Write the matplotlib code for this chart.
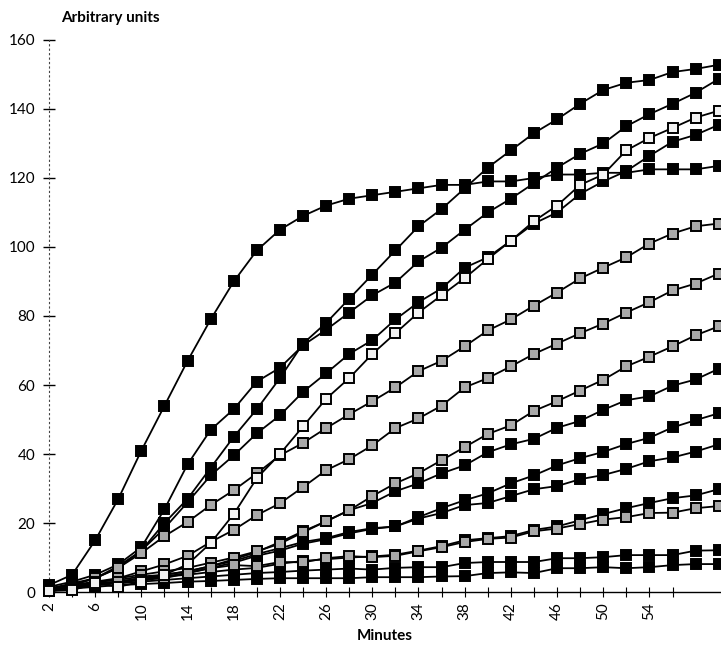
import numpy as np
import matplotlib.pyplot as plt

plt.rcParams['font.family'] = ['Lato', 'DejaVu Sans']

minutes = np.arange(2, 62, 2)

# black series
s_a = [2, 5, 15, 27, 41, 54, 67, 79, 90, 99, 105, 109, 112, 114, 115, 116, 117, 118, 118, 119,
       119, 120, 121, 121, 121.5, 121.5, 122.5, 122.5, 122.5, 123.5]
s_b = [1, 2, 4, 7, 12, 20, 27, 36, 45, 53, 62, 72, 78, 85, 92, 99, 106, 111, 117, 123,
       128, 133, 137, 141.5, 145.5, 147.6, 148.4, 150.7, 151.6, 152.8]
s_c = [1.5, 3, 5, 8, 13, 24, 37, 47, 53, 61, 65, 71.5, 76, 81, 86, 89.7, 95.8, 99.8, 105, 110,
       114, 118.5, 123, 127, 130, 135, 138.5, 141.5, 144.7, 148.7]
s_d = [1, 2.5, 4, 7.5, 12, 18.5, 26, 33.8, 39.6, 46, 51.2, 58, 63.4, 69, 73, 79, 84, 88, 94, 97,
       101.8, 106.8, 110, 115.4, 119, 122, 126.4, 130.5, 132.5, 135.4]
s_h = [1, 2, 3, 3.5, 4.5, 5, 6, 7.5, 9.5, 11.6, 14.5, 17.6, 20.5, 23.7, 25.8, 29.2, 31.5, 34.4, 36.7, 40.5,
       42.8, 44.4, 47.6, 49.6, 52.8, 55.6, 56.7, 59.8, 61.6, 64.7]
s_i = [0.5, 1.5, 2.5, 3, 4, 5, 6, 7.5, 9, 11, 12.7, 14.5, 15.6, 17.4, 18.5, 19, 21.7, 24.3, 26.6, 28.6,
       31.5, 33.8, 36.7, 38.8, 40.6, 42.9, 44.7, 47.7, 49.8, 51.8]
s_j = [0.5, 1.2, 2, 2.8, 3.5, 4.5, 5.5, 7, 8.5, 10.5, 12, 14, 15.3, 17, 18.3, 19, 21.3, 22.9, 25.2, 25.8,
       27.8, 29.8, 30.7, 32.7, 33.9, 35.7, 37.9, 39, 40.7, 42.8]
s_k = [0.5, 1.5, 2.5, 3, 4, 4.5, 5, 5.8, 6.5, 7, 8.2, 9, 9.5, 10, 10.3, 10.8, 12, 13.3, 15, 15.6,
       16.2, 18, 19, 20.8, 22.6, 24.3, 25.8, 27.2, 28, 29.8]
s_m = [0.5, 1.5, 2, 2.5, 3, 3.5, 4, 4.5, 5, 5.5, 5.8, 6.2, 6.5, 6.8, 6.5, 7, 7.2, 7.2, 8.4, 8.7,
       8.7, 8.7, 9.8, 9.8, 10.1, 10.7, 10.7, 10.7, 12, 12.1]
s_n = [0.3, 1, 1.5, 2, 2.3, 2.6, 3, 3.2, 3.5, 3.8, 4, 4, 4, 4, 4.3, 4.3, 4.3, 4.5, 4.6, 5.5,
       5.7, 5.5, 6.9, 6.9, 7.2, 6.9, 7.2, 7.8, 8.1, 8.1]

# grey series
s_f = [0.5, 2, 4, 7, 11.3, 16.2, 20.3, 25.2, 29.5, 34.4, 39.6, 43.2, 47.5, 51.5, 55.3, 59.3, 64, 67, 71.2, 75.8,
       79, 83, 86.8, 90.9, 94, 97, 101, 103.9, 106, 106.8]
s_g = [0.5, 1, 2.5, 4, 6, 8, 10.5, 14.5, 18, 22.3, 25.7, 30.4, 35.3, 38.5, 42.5, 47.5, 50.3, 54, 59.3, 62,
       65.4, 69, 72, 75, 77.8, 81, 84, 87.4, 89.4, 92.3]
s_h2 = [0.5, 1.5, 3, 4, 5, 6, 7, 8.5, 10, 11.8, 14, 17.3, 20.5, 23.7, 27.8, 31.5, 34.4, 38.2, 42, 45.8,
        48.3, 52.5, 55.3, 58.4, 61.5, 65.4, 68.2, 71.2, 74.4, 77]
s_l = [0.3, 1, 2, 2.8, 3.5, 4, 5.5, 6.9, 7.8, 7.5, 8.7, 8.6, 9.8, 10.4, 10.1, 10.5, 11.8, 13, 14.5, 15.4,
       15.8, 17.6, 18.4, 19.7, 21, 21.7, 22.9, 23, 24.3, 24.9]

# white series
s_e = [0.3, 0.5, 2.5, 1.5, 3, 5, 8, 14.2, 22.6, 33, 40, 48, 56, 62, 69, 75, 81, 86, 91, 96.5,
       101.8, 107.5, 112, 118, 121, 128, 131.6, 134.5, 137.5, 139.5]

black_series = [s_a, s_b, s_c, s_d, s_h, s_i, s_j, s_k, s_m, s_n]
grey_series = [s_f, s_g, s_h2, s_l]
white_series = [s_e]

fig = plt.figure(figsize=(7.21, 6.5), dpi=100)
ax = fig.add_axes([0.068, 0.0892, 0.932, 0.8493])

for vals, face in ([(v, 'black') for v in black_series] +
                   [(v, '#a9a9a9') for v in grey_series] +
                   [(v, '#f2f2f2') for v in white_series]):
    ax.plot(minutes, vals, color='black', lw=1.3, marker='s', markersize=7.5,
            markerfacecolor=face, markeredgecolor='black', markeredgewidth=1.4,
            clip_on=False, zorder=3)

ax.set_xlim(2, 60.2)
ax.set_ylim(0, 160)

xt = list(range(2, 57, 2))
ax.set_xticks(xt)
ax.set_xticklabels([str(t) if (t - 2) % 4 == 0 and t <= 54 else '' for t in xt],
                   rotation=90, fontsize=11)
ax.set_yticks(range(0, 161, 20))
ax.tick_params(axis='y', direction='inout', length=8, width=1, labelsize=11, pad=6)
ax.tick_params(axis='x', direction='inout', length=7, width=0.8, pad=4)

for side in ['top', 'right']:
    ax.spines[side].set_visible(False)
ax.spines['left'].set_linestyle((0, (1, 3)))
ax.spines['left'].set_linewidth(0.8)
ax.spines['left'].set_color('#444444')
ax.spines['bottom'].set_linewidth(1.0)

fig.text(0.153, 0.972, 'Arbitrary units', fontsize=11, fontweight='bold',
         ha='center', va='center')
fig.text(0.534, 0.022, 'Minutes', fontsize=11, fontweight='bold',
         ha='center', va='center')

plt.savefig('out.png', dpi=100)
plt.close('all')
